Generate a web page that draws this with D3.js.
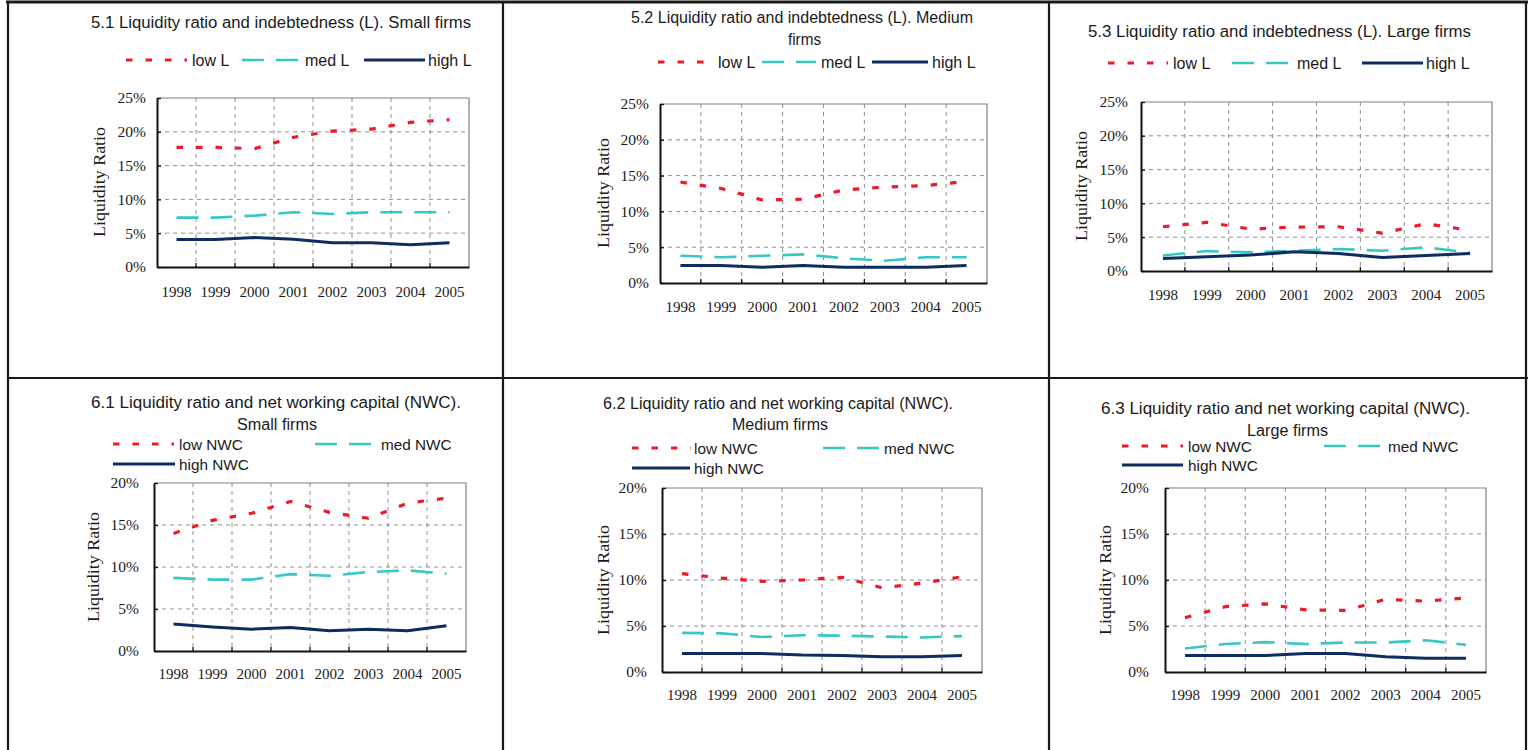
<!DOCTYPE html>
<html>
<head>
<meta charset="utf-8">
<script src="https://cdn.jsdelivr.net/npm/d3@7"></script>
<style>
  body { margin: 0; background: #fff; }
  svg { display: block; }
</style>
</head>
<body>
<svg id="chart" width="1528" height="750"></svg>
<script>
// ---- Data -------------------------------------------------------------
const years = ["1998", "1999", "2000", "2001", "2002", "2003", "2004", "2005"];
const ticksL = [0, 5, 10, 15, 20, 25];
const ticksNWC = [0, 5, 10, 15, 20];

// Liquidity ratio (%) by indebtedness group (L)
const lowL_small   = [17.7, 17.7, 17.5, 19.2, 20.1, 20.4, 21.4, 21.8];
const medL_small   = [7.3, 7.3, 7.6, 8.1, 7.85, 8.1, 8.1, 8.1];
const highL_small  = [4.05, 4.05, 4.35, 4.1, 3.6, 3.6, 3.3, 3.6];

const lowL_medium  = [14.1, 13.2, 11.6, 11.7, 13.0, 13.4, 13.6, 14.2];
const medL_medium  = [3.8, 3.6, 3.8, 4.0, 3.45, 3.1, 3.6, 3.6];
const highL_medium = [2.45, 2.45, 2.2, 2.45, 2.2, 2.2, 2.2, 2.45];

const lowL_large   = [6.55, 7.2, 6.2, 6.5, 6.55, 5.6, 7.0, 6.0];
const medL_large   = [2.3, 2.95, 2.75, 3.0, 3.25, 3.0, 3.5, 2.7];
const highL_large  = [1.85, 2.1, 2.35, 2.85, 2.6, 2.0, 2.3, 2.6];

// Liquidity ratio (%) by net working capital group (NWC)
const lowNWC_small   = [14.0, 15.55, 16.4, 17.8, 16.5, 15.8, 17.6, 18.2];
const medNWC_small   = [8.7, 8.5, 8.5, 9.15, 8.95, 9.4, 9.6, 9.2];
const highNWC_small  = [3.2, 2.85, 2.6, 2.8, 2.4, 2.6, 2.4, 3.0];

const lowNWC_medium  = [10.7, 10.2, 9.85, 10.0, 10.3, 9.15, 9.65, 10.35];
const medNWC_medium  = [4.25, 4.2, 3.8, 4.0, 3.95, 3.85, 3.75, 3.9];
const highNWC_medium = [2.0, 2.0, 2.0, 1.85, 1.8, 1.65, 1.65, 1.8];

const lowNWC_large   = [5.9, 7.1, 7.4, 6.75, 6.7, 7.9, 7.7, 8.05];
const medNWC_large   = [2.55, 3.05, 3.25, 3.05, 3.2, 3.2, 3.45, 2.95];
const highNWC_large  = [1.8, 1.8, 1.8, 2.0, 2.0, 1.65, 1.5, 1.5];

// ---- Styles -----------------------------------------------------------
const seriesStyle = {
  low:  { color: "#ec1a2a", width: 3.2, dash: "6.5,13" },
  med:  { color: "#38c8c4", width: 2.6, dash: "22,12" },
  high: { color: "#0e2c5e", width: 3.0, dash: null }
};
const sansFont = "'Liberation Sans', Arial, sans-serif";
const serifFont = "'Liberation Serif', 'Times New Roman', serif";
const gridColor = "#8e8e8e";

// ---- Panel layout -----------------------------------------------------
const panels = [
  {
    plot: { x0: 157, x1: 469, y0: 98, y1: 267 }, yMax: 25, ticks: ticksL,
    series: { low: lowL_small, med: medL_small, high: highL_small },
    title: [{ t: "5.1 Liquidity ratio and indebtedness (L). Small firms", x: 91, y: 28, w: 380 }],
    legendSize: 16,
    legend: [
      { key: "low",  label: "low L",  x0: 126, x1: 187, y: 60, tx: 192 },
      { key: "med",  label: "med L",  x0: 242, x1: 299, y: 60, tx: 305 },
      { key: "high", label: "high L", x0: 364, x1: 425, y: 60, tx: 428 }
    ],
    yLabel: { x: 101, y: 182 }, yPad: 11, xPad: 19.4
  },
  {
    plot: { x0: 660, x1: 987, y0: 104, y1: 283 }, yMax: 25, ticks: ticksL,
    series: { low: lowL_medium, med: medL_medium, high: highL_medium },
    title: [
      { t: "5.2 Liquidity ratio and indebtedness (L). Medium", x: 631, y: 23, w: 342 },
      { t: "firms", x: 788, y: 45, w: 33 }
    ],
    legendSize: 16,
    legend: [
      { key: "low",  label: "low L",  x0: 658, x1: 714, y: 62, tx: 718 },
      { key: "med",  label: "med L",  x0: 762, x1: 816, y: 62, tx: 821 },
      { key: "high", label: "high L", x0: 872, x1: 928, y: 62, tx: 932 }
    ],
    yLabel: { x: 605, y: 193 }, yPad: 11, xPad: 18.4
  },
  {
    plot: { x0: 1141, x1: 1492, y0: 102, y1: 271 }, yMax: 25, ticks: ticksL,
    series: { low: lowL_large, med: medL_large, high: highL_large },
    title: [{ t: "5.3 Liquidity ratio and indebtedness (L). Large firms", x: 1088, y: 37, w: 383 }],
    legendSize: 16,
    legend: [
      { key: "low",  label: "low L",  x0: 1108, x1: 1168, y: 63, tx: 1173 },
      { key: "med",  label: "med L",  x0: 1232, x1: 1290, y: 63, tx: 1297 },
      { key: "high", label: "high L", x0: 1362, x1: 1423, y: 63, tx: 1426 }
    ],
    yLabel: { x: 1083, y: 186 }, yPad: 13, xPad: 18.4
  },
  {
    plot: { x0: 154, x1: 466, y0: 483, y1: 651 }, yMax: 20, ticks: ticksNWC,
    series: { low: lowNWC_small, med: medNWC_small, high: highNWC_small },
    title: [
      { t: "6.1 Liquidity ratio and net working capital (NWC).", x: 91, y: 408, w: 370 },
      { t: "Small firms", x: 237, y: 430, w: 80 }
    ],
    legendSize: 15.3,
    legend: [
      { key: "low",  label: "low NWC",  x0: 113, x1: 174, y: 444, tx: 179 },
      { key: "med",  label: "med NWC",  x0: 315, x1: 373, y: 444, tx: 381 },
      { key: "high", label: "high NWC", x0: 113, x1: 175, y: 464, tx: 179 }
    ],
    yLabel: { x: 95, y: 567 }, yPad: 15, xPad: 17.4
  },
  {
    plot: { x0: 662, x1: 982, y0: 488, y1: 672 }, yMax: 20, ticks: ticksNWC,
    series: { low: lowNWC_medium, med: medNWC_medium, high: highNWC_medium },
    title: [
      { t: "6.2 Liquidity ratio and net working capital (NWC).", x: 603, y: 409, w: 350 },
      { t: "Medium firms", x: 732, y: 430, w: 96 }
    ],
    legendSize: 15.3,
    legend: [
      { key: "low",  label: "low NWC",  x0: 632, x1: 691, y: 448, tx: 694 },
      { key: "med",  label: "med NWC",  x0: 823, x1: 880, y: 448, tx: 884 },
      { key: "high", label: "high NWC", x0: 632, x1: 690, y: 468, tx: 694 }
    ],
    yLabel: { x: 605, y: 580 }, yPad: 15, xPad: 17.4
  },
  {
    plot: { x0: 1165, x1: 1486, y0: 488, y1: 672 }, yMax: 20, ticks: ticksNWC,
    series: { low: lowNWC_large, med: medNWC_large, high: highNWC_large },
    title: [
      { t: "6.3 Liquidity ratio and net working capital (NWC).", x: 1101, y: 414, w: 369 },
      { t: "Large firms", x: 1247, y: 436, w: 81 }
    ],
    legendSize: 15.3,
    legend: [
      { key: "low",  label: "low NWC",  x0: 1122, x1: 1183, y: 446, tx: 1188 },
      { key: "med",  label: "med NWC",  x0: 1324, x1: 1382, y: 446, tx: 1388 },
      { key: "high", label: "high NWC", x0: 1122, x1: 1183, y: 465, tx: 1188 }
    ],
    yLabel: { x: 1107, y: 580 }, yPad: 16, xPad: 17.4
  }
];

const svg = d3.select("#chart");
svg.append("rect").attr("width", 1528).attr("height", 750).attr("fill", "#fff");

// ---- Table cell borders ----------------------------------------------
const borders = svg.append("g").attr("stroke", "#1a1a1a").attr("fill", "none");
borders.append("line").attr("x1", 6).attr("x2", 1528).attr("y1", 2).attr("y2", 2).attr("stroke-width", 3);
borders.append("line").attr("x1", 8).attr("x2", 1528).attr("y1", 378).attr("y2", 378).attr("stroke-width", 2);
[8, 503, 1049, 1526].forEach(x => {
  borders.append("line").attr("x1", x).attr("x2", x).attr("y1", 1).attr("y2", 750).attr("stroke-width", 2.2);
});

// ---- Panels -----------------------------------------------------------
panels.forEach(p => {
  const g = svg.append("g");
  const { x0, x1, y0, y1 } = p.plot;

  const x = d3.scaleBand().domain(years).range([x0, x1]).padding(0);
  const y = d3.scaleLinear().domain([0, p.yMax]).range([y1, y0]);
  const cx = d => x(d) + x.bandwidth() / 2;

  // title
  p.title.forEach(t => {
    g.append("text")
      .attr("x", t.x).attr("y", t.y)
      .attr("textLength", t.w).attr("lengthAdjust", "spacingAndGlyphs")
      .attr("font-family", sansFont).attr("font-size", 16)
      .attr("fill", "#1a1a1a")
      .text(t.t);
  });

  // legend
  p.legend.forEach(it => {
    const s = seriesStyle[it.key];
    g.append("line")
      .attr("x1", it.x0).attr("x2", it.x1).attr("y1", it.y).attr("y2", it.y)
      .attr("stroke", s.color).attr("stroke-width", s.width)
      .attr("stroke-dasharray", s.dash);
    g.append("text")
      .attr("x", it.tx).attr("y", it.y + p.legendSize * 0.36)
      .attr("font-family", sansFont).attr("font-size", p.legendSize)
      .attr("fill", "#1a1a1a")
      .text(it.label);
  });

  // horizontal gridlines
  g.append("g").selectAll("line")
    .data(p.ticks.filter(v => v > 0 && v < p.yMax))
    .join("line")
    .attr("x1", x0).attr("x2", x1)
    .attr("y1", d => y(d)).attr("y2", d => y(d))
    .attr("stroke", gridColor).attr("stroke-width", 1)
    .attr("stroke-dasharray", "4,4");

  // vertical gridlines and tick marks at category boundaries
  const bounds = years.slice(1);
  g.append("g").selectAll("line")
    .data(bounds)
    .join("line")
    .attr("x1", d => x(d)).attr("x2", d => x(d))
    .attr("y1", y0).attr("y2", y1)
    .attr("stroke", gridColor).attr("stroke-width", 1)
    .attr("stroke-dasharray", "4,4");
  g.append("g").selectAll("line")
    .data(bounds)
    .join("line")
    .attr("x1", d => x(d)).attr("x2", d => x(d))
    .attr("y1", y1 - 4).attr("y2", y1)
    .attr("stroke", "#111").attr("stroke-width", 1.3);

  // plot frame (top and right)
  g.append("path")
    .attr("d", `M${x0},${y0}H${x1}V${y1}`)
    .attr("fill", "none").attr("stroke", "#808080").attr("stroke-width", 1.2);

  // series
  const line = d3.line().x((d, i) => cx(years[i])).y(d => y(d));
  ["med", "high", "low"].forEach(k => {
    const s = seriesStyle[k];
    g.append("path")
      .datum(p.series[k])
      .attr("d", line)
      .attr("fill", "none")
      .attr("stroke", s.color)
      .attr("stroke-width", s.width)
      .attr("stroke-dasharray", s.dash)
      .attr("stroke-linejoin", "round");
  });

  // y axis
  const yAxis = g.append("g")
    .attr("transform", `translate(${x0},0)`)
    .call(d3.axisLeft(y).tickValues(p.ticks).tickFormat(d => d + "%")
      .tickSize(-4).tickSizeOuter(0).tickPadding(p.yPad));
  yAxis.select(".domain").attr("stroke", "#111").attr("stroke-width", 2);
  yAxis.selectAll(".tick line").attr("stroke", "#111").attr("stroke-width", 1.3);
  yAxis.selectAll(".tick text")
    .attr("font-family", serifFont).attr("font-size", 15.5).attr("fill", "#1a1a1a");

  // x axis
  const xAxis = g.append("g")
    .attr("transform", `translate(0,${y1})`)
    .call(d3.axisBottom(x).tickSize(0).tickSizeOuter(0).tickPadding(p.xPad));
  xAxis.select(".domain").attr("stroke", "#111").attr("stroke-width", 2);
  xAxis.selectAll(".tick text")
    .attr("font-family", serifFont).attr("font-size", 15).attr("fill", "#1a1a1a");

  // y axis title
  g.append("text")
    .attr("transform", `translate(${p.yLabel.x + 3.9},${p.yLabel.y}) rotate(-90)`)
    .attr("text-anchor", "middle")
    .attr("textLength", 110).attr("lengthAdjust", "spacingAndGlyphs")
    .attr("font-family", serifFont).attr("font-size", 17)
    .attr("fill", "#1a1a1a")
    .text("Liquidity Ratio");
});
</script>
</body>
</html>
